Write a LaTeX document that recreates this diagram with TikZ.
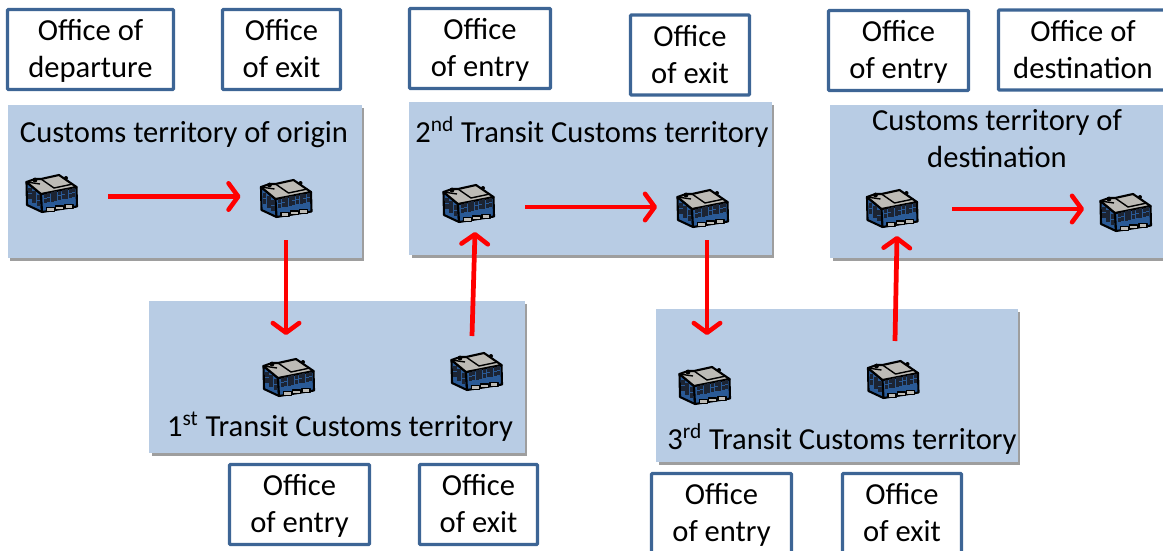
\documentclass[tikz,border=0pt]{standalone}
\usepackage{fontspec}
\setmainfont{Carlito}
\usetikzlibrary{arrows.meta,shadows}
\definecolor{terrblue}{HTML}{B8CCE4}
\definecolor{boxblue}{HTML}{3D6595}
\definecolor{bldblue}{HTML}{2A5A96}
\definecolor{bldgrey}{HTML}{BDBBB6}
\definecolor{bldglass}{HTML}{1C2433}
\tikzset{
	lbl/.style={font=\fontsize{17.4}{21}\selectfont,align=center,inner sep=0pt},
	officebox/.style={lbl,draw=boxblue,line width=1.9pt,fill=white,rounded corners=0.5pt,text height=34pt,text depth=1.7pt},
	territory/.style={fill=terrblue,inner sep=0pt,drop shadow={shadow xshift=0.05cm,shadow yshift=-0.06cm,opacity=0.38,fill=black}},
	office/.style={minimum width=1.04cm,minimum height=0.8cm,inner sep=0pt},
	flow/.style={red,line width=2.7pt,-{Straight Barb[length=5.5pt,width=15pt,line width=2.6pt,round]}},
	building/.pic={
		\begin{scope}[line width=1.2pt,line join=round,draw=black]
		\filldraw[fill=bldblue] (-25.5,-11) -- (-11,1) -- (-10,19) -- (-25,12) -- cycle;
		\filldraw[fill=bldblue] (-11,1) -- (24.5,-6) -- (25,13.5) -- (-10,19) -- cycle;
		\filldraw[fill=bldgrey] (-25.5,-11) -- (-17,-14) -- (-11,-14) -- (7,-18) -- (24.5,-6) -- (-11,1) -- cycle;
		\draw[line width=0.8pt] (-11,-14) -- (2,-5) -- (21,-9);
		\draw[line width=0.8pt] (-25.5,-11) -- (-12,-9);
		\fill[black] (-17,-13) circle (2.4) (14,-15) circle (2);
		\foreach \row in {0,1} {
			\foreach \col in {0,...,8}
				\fill[bldglass] ({-8.5+\col*3.6},{0.5-0.7*\col+\row*5}) rectangle +(3,4.4);
			\foreach \col in {0,1,2}
				\fill[bldglass] ({-24+\col*4.4},{-5+\col*3.4+\row*6}) rectangle +(3.6,5.2);
		}
		\foreach \col in {0,1,2}
			\filldraw[fill=bldgrey,line width=0.7pt] ({-5.5+\col*9.3},{14.5-\col*1.5}) rectangle +(8,3.8);
		\end{scope}
	}
}
\begin{document}
\begin{tikzpicture}[x=0.02cm,y=-0.02cm]
		\clip (0,0) rectangle (1163,551);
		\useasboundingbox (0,0) rectangle (1163,551);
		
		% territories
		\node[territory,minimum width=7.09cm,minimum height=3.06cm] (origin) at (184.75,181.5) {};
		\node[territory,minimum width=7.52cm,minimum height=3.04cm] (transA) at (337,377) {};
		\node[territory,minimum width=7.26cm,minimum height=3.06cm] (transB) at (590.5,178.5) {};
		\node[territory,minimum width=7.24cm,minimum height=3.06cm] (transC) at (837,385.5) {};
		\node[territory,minimum width=7.2cm,minimum height=3.06cm] (dest) at (1010,181.5) {};
		
		\node[lbl] (originText) at (184,135) {Customs territory of origin};
		\node[lbl] (transAText) at (340,427) {1\textsuperscript{st} Transit Customs territory};
		\node[lbl] (transBText) at (592,132) {2\textsuperscript{nd} Transit Customs territory};
		\node[lbl] (transCText) at (842,439) {3\textsuperscript{rd} Transit Customs territory};
		\node[lbl] (destText) at (997,139) {Customs territory of\\destination};
		
		% offices at the top
		\node[officebox,minimum width=3.32cm,minimum height=1.6cm] (depart) at (90.5,49.5) {Office of\\departure};
		\node[officebox,minimum width=2.36cm,minimum height=1.6cm] (exitO) at (281.5,49.5) {Office\\of exit};
		\node[officebox,minimum width=2.82cm,minimum height=1.6cm] (entryB) at (480,48.5) {Office\\of entry};
		\node[officebox,minimum width=2.38cm,minimum height=1.6cm] (exitB) at (690,55) {Office\\of exit};
		\node[officebox,minimum width=2.8cm,minimum height=1.6cm] (entryD) at (898.5,50.5) {Office\\of entry};
		\node[officebox,minimum width=3.38cm,minimum height=1.6cm] (destOff) at (1083,50) {Office of\\destination};
		
		% offices at the bottom
		\node[officebox,minimum width=2.8cm,minimum height=1.6cm] (entryA) at (299.5,504.5) {Office\\of entry};
		\node[officebox,minimum width=2.36cm,minimum height=1.6cm] (exitA) at (478.5,504.5) {Office\\of exit};
		\node[officebox,minimum width=2.8cm,minimum height=1.6cm] (entryC) at (721.5,513.5) {Office\\of entry};
		\node[officebox,minimum width=2.38cm,minimum height=1.6cm] (exitC) at (902,513.5) {Office\\of exit};
		
		% buildings
		\foreach \name/\x/\y in {Ba/52/193,Bb/286.5/198,Bc/289/377,Bd/477/371,Be/469/203,Bf/703/208,Bg/705/385,Bh/893.5/379,Bi/892.5/208,Bj/1126/212} {
			\node[office] (\name) at (\x,\y) {};
			\pic at (\name) {building};
		}
		
		% route
		\draw[flow] ([shift={(56,3.5)}]Ba.center) -- ([shift={(-46,-1.5)}]Bb.center);
		\draw[flow] ([shift={(-0.5,42)}]Bb.center) -- ([shift={(-3,-42)}]Bc.center);
		\draw[flow] ([shift={(-5,-35)}]Bd.center) -- ([shift={(6,29)}]Be.center);
		\draw[flow] ([shift={(56,4)}]Be.center) -- ([shift={(-46,-1)}]Bf.center);
		\draw[flow] ([shift={(4,32)}]Bf.center) -- ([shift={(2,-50)}]Bg.center);
		\draw[flow] ([shift={(1.5,-38)}]Bh.center) -- ([shift={(4.5,28)}]Bi.center);
		\draw[flow] ([shift={(59.5,1)}]Bi.center) -- ([shift={(-42,-3)}]Bj.center);
		\end{tikzpicture}
\end{document}
